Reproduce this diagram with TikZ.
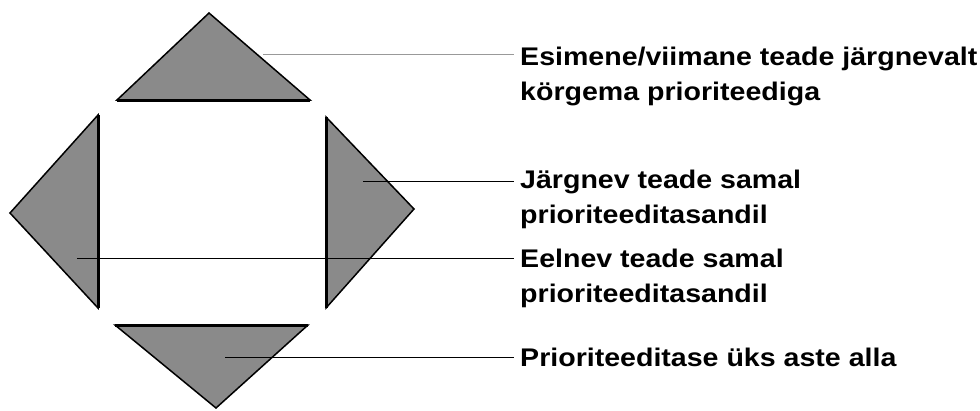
\documentclass[tikz,border=0pt]{standalone}
\usepackage{fontspec}
\setmainfont{Liberation Sans}[FakeStretch=1.12]
\usetikzlibrary{calc}
\tikzset{%
    tri/.style={fill=black!46, draw=black, line width=1.5pt, line join=miter},
    edg/.style={line width=3pt},
    lin/.style={line width=0.9pt, shorten >=6pt},
    ling/.style={line width=0.9pt, draw=black!40, shorten >=6pt},
    lbl/.style={anchor=base west, align=left, inner sep=0pt, font=\fontsize{25.5}{35}\selectfont\bfseries},
}
\begin{document}
\begin{tikzpicture}[x=1pt, y=-1pt]
    \useasboundingbox (0,0) rectangle (980,410);
    % arrow buttons
    \draw [tri] (209,13) -- (310,100) -- (117,100) -- cycle;
    \draw [edg] (117,100) -- (310,100);
    \draw [tri] (10,213) -- (98,115) -- (98,308) -- cycle;
    \draw [edg] (98,115) -- (98,308);
    \draw [tri] (414,209) -- (326,117) -- (326,308) -- cycle;
    \draw [edg] (326,117) -- (326,308);
    \draw [tri] (216,408) -- (308,325) -- (115,325) -- cycle;
    \draw [edg] (115,325) -- (308,325);
    % pointers (base is last line)
    \coordinate (c1) at (263,54);
    \coordinate (c2) at (363,181);
    \coordinate (c3) at (77,258);
    \coordinate (c4) at (225,357);
    \node [lbl] (t1) at (520,100) {Esimene/viimane teade järgnevalt\\körgema prioriteediga};
    \node [lbl] (t2) at (520,223) {Järgnev teade samal\\prioriteeditasandil};
    \node [lbl] (t3) at (520,302) {Eelnev teade samal\\prioriteeditasandil};
    \node [lbl] (t4) at (520,366) {Prioriteeditase üks aste alla};
    \draw [ling] (c1) -- (c1 -| t1.west);
    \draw [lin] (c2) -- (c2 -| t2.west);
    \draw [lin] (c3) -- (c3 -| t3.west);
    \draw [lin] (c4) -- (c4 -| t4.west);
\end{tikzpicture}
\end{document}
